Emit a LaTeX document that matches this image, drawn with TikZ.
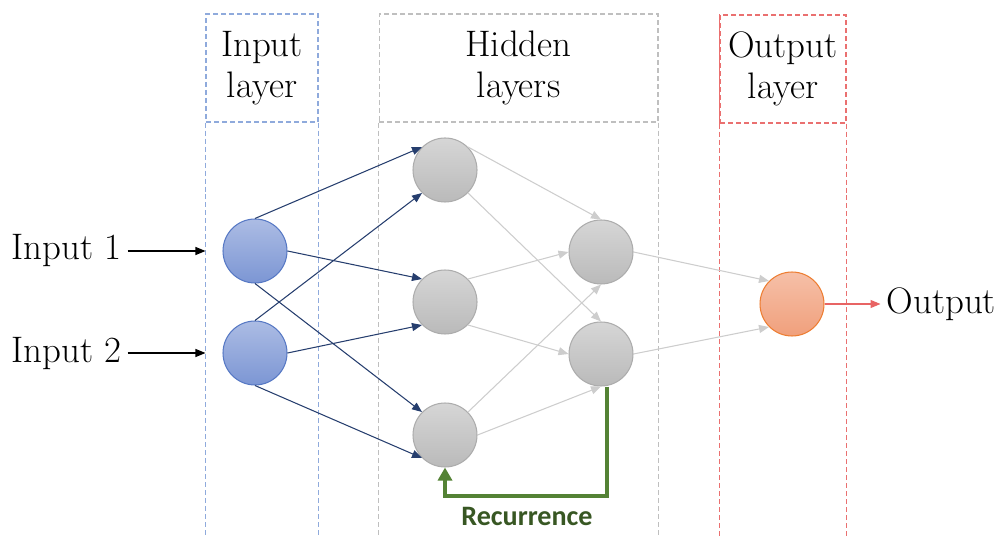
\documentclass[tikz,border=0pt]{standalone}
\usepackage{fontspec}
\newfontfamily\recfont{Carlito}
\usetikzlibrary{arrows.meta,positioning,calc}
\definecolor{boxblue}{RGB}{143,170,220}
\definecolor{boxgray}{RGB}{191,191,191}
\definecolor{boxred}{RGB}{234,112,112}
\definecolor{navy}{RGB}{38,62,110}
\definecolor{edgegray}{RGB}{205,205,205}
\definecolor{intop}{RGB}{172,188,228}
\definecolor{inbot}{RGB}{124,150,212}
\definecolor{inline}{RGB}{86,120,196}
\definecolor{graytop}{RGB}{214,214,214}
\definecolor{graybot}{RGB}{186,186,186}
\definecolor{grayline}{RGB}{172,172,172}
\definecolor{outtop}{RGB}{246,192,168}
\definecolor{outbot}{RGB}{240,160,124}
\definecolor{outline}{RGB}{237,125,49}
\definecolor{outred}{RGB}{232,100,100}
\definecolor{recgreen}{RGB}{84,130,53}
\definecolor{rectext}{RGB}{56,87,35}

\begin{document}
\begin{tikzpicture}[x=0.02cm,y=-0.02cm,>={Triangle[length=2mm,width=1.6mm]},
  every node/.style={font=\fontsize{21}{23}\selectfont},
  hdr/.style={draw,line width=0.6pt,dash pattern=on 0.1cm off 0.06cm,minimum height=2.16cm,align=center,inner sep=0},
  side/.style={line width=0.8pt,dash pattern=on 0.1cm off 0.06cm},
  neuron/.style={circle,minimum size=1.28cm,inner sep=0,line width=0.6pt},
  inneuron/.style={neuron,draw=inline,top color=intop,bottom color=inbot},
  hidneuron/.style={neuron,draw=grayline,top color=graytop,bottom color=graybot},
  outneuron/.style={neuron,draw=outline,top color=outtop,bottom color=outbot},
  navyedge/.style={->,draw=navy,line width=0.6pt},
  grayedge/.style={->,draw=edgegray,line width=0.6pt},
  recur/.style={-{Triangle[length=0.26cm,width=0.28cm]},draw=recgreen,line width=0.08cm}]
\useasboundingbox (0,0) rectangle (1000,536);
% layer boxes
\node[hdr,draw=boxblue,minimum width=2.24cm] (inhdr) at (262,68) {Input\\layer};
\node[hdr,draw=boxgray,minimum width=5.58cm] (hidhdr) at (518.5,68) {Hidden\\layers};
\node[hdr,draw=boxred,minimum width=2.52cm] (outhdr) at (783,69) {Output\\layer};
\draw[boxred,line width=0.6pt] (outhdr.north west) -- (outhdr.south west);
\foreach \b/\c in {inhdr/boxblue,hidhdr/boxgray,outhdr/boxred} {
  \draw[side,draw=\c] (\b.south west) -- ++(0,420);
  \draw[side,draw=\c] (\b.south east) -- ++(0,420);
}
% neurons
\node[inneuron] (in1) at (255,251) {};
\node[inneuron] (in2) at (255,353) {};
\node[hidneuron] (h11) at (445,170) {};
\node[hidneuron] (h12) at (445,302) {};
\node[hidneuron] (h13) at (445,435) {};
\node[hidneuron] (h21) at (601,252) {};
\node[hidneuron] (h22) at (601,354) {};
\node[outneuron] (out) at (792,304) {};
\node[left=1.9cm of in1] (lbl1) {Input 1};
\node[left=1.9cm of in2] (lbl2) {Input 2};
\node[right=1.12cm of out] (outlbl) {Output};
% connections
\foreach \s/\t in {in1.north/h11.north west,in1.east/h12.north west,in1.south/h13.north west,
  in2.north/h11.south west,in2.east/h12.south west,in2.south/h13.south west}
  \draw[navyedge] (\s) -- (\t);
\foreach \s/\t in {h11.north east/h21.north,h11.south east/h22.north,h12.north east/h21.west,
  h12.south east/h22.west,h13.north east/h21.south,h13.east/h22.south,
  h21.east/out.north west,h22.east/out.south west}
  \draw[grayedge] (\s) -- (\t);
\draw[->,line width=0.6pt,shorten >=0.34cm] (lbl1) -- (in1);
\draw[->,line width=0.6pt,shorten >=0.34cm] (lbl2) -- (in2);
\draw[->,draw=outred,line width=0.6pt] (out) -- (outlbl);
% recurrence loop
\draw[recur] ($(h22.south)+(6,0)$) -- ++(0,109) -| (h13.south);
\node[font=\recfont\bfseries\fontsize{16}{18}\selectfont,text=rectext] (reclbl) at (527,516) {Recurrence};
\end{tikzpicture}
\end{document}
